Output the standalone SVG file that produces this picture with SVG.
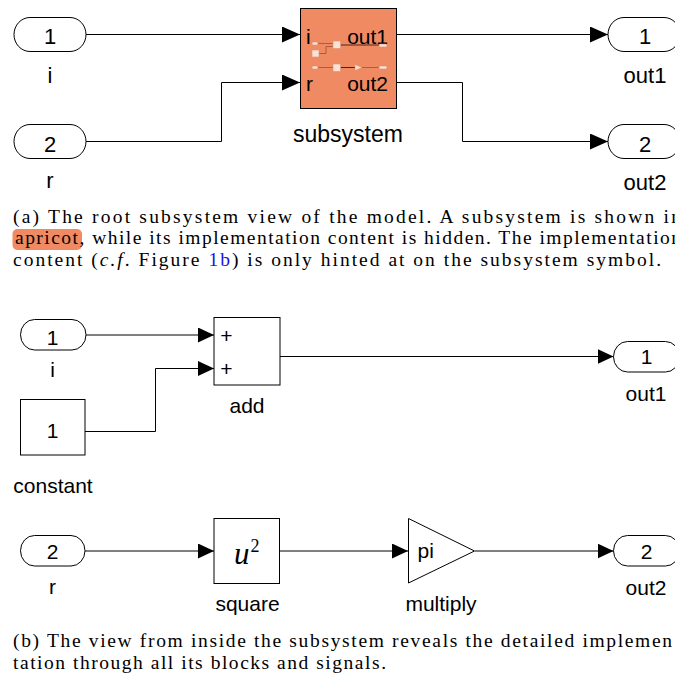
<svg xmlns="http://www.w3.org/2000/svg" width="675" height="676" viewBox="0 0 675 676">
<defs>
<style>
.ln{fill:none;stroke:#000;stroke-width:1}
.blk{fill:#fff;stroke:#000;stroke-width:1}
.sub{fill:#EF8A62;stroke:#000;stroke-width:1}
.sf{font-family:"Liberation Sans",Arial,sans-serif;fill:#000}
.t22{font-size:22px}
.t21{font-size:21px}
.mid{text-anchor:middle}
.end{text-anchor:end}
.cap{font-family:"Liberation Serif","Times New Roman",serif;font-size:19.5px;fill:#000}
.mini{fill:#FBE2D6;stroke:#D98F70;stroke-width:0.6}
.hl{fill:none;stroke:#A0502F;stroke-width:0.8}
.hd{fill:none;stroke:#4A2418;stroke-width:1}
</style>
<marker id="ah" viewBox="0 0 18 16" refX="18" refY="8" markerWidth="18" markerHeight="16" markerUnits="userSpaceOnUse" orient="auto"><path d="M0,0 L18,8 L0,16 z" fill="#000"/></marker>
<marker id="ab" viewBox="0 0 16 15" refX="16" refY="7.5" markerWidth="16" markerHeight="15" markerUnits="userSpaceOnUse" orient="auto"><path d="M0,0 L16,7.5 L0,15 z" fill="#000"/></marker>
</defs>
<rect width="675" height="676" fill="#fff"/>

<!-- Top: connectors -->
<g id="connectors-a">
<path class="ln" d="M86,34.5 H300" marker-end="url(#ah)"/>
<path class="ln" d="M86,141.5 H221.5 V82.5 H300" marker-end="url(#ah)"/>
<path class="ln" d="M396,34.5 H608" marker-end="url(#ah)"/>
<path class="ln" d="M396,82.5 H462.5 V141.5 H608" marker-end="url(#ah)"/>
</g>

<g id="a-in-i">
<rect class="blk" x="14" y="17.5" width="72" height="34" rx="16" ry="17"/>
<text class="sf t22 mid" x="50" y="43.5">1</text>
<text class="sf t22 mid" x="50" y="83">i</text>
</g>
<g id="a-in-r">
<rect class="blk" x="14" y="124.5" width="72" height="34" rx="16" ry="17"/>
<text class="sf t22 mid" x="50" y="151.5">2</text>
<text class="sf t22 mid" x="50" y="188">r</text>
</g>
<g id="a-subsystem">
<rect class="sub" x="300.5" y="8.5" width="96" height="100"/>
<text class="sf t21" x="306" y="43.5">i</text>
<text class="sf t21 end" x="388" y="43.5">out1</text>
<text class="sf t21" x="306" y="91">r</text>
<text class="sf t21 end" x="388" y="91">out2</text>
<path class="hl" d="M318,43.5 H333"/>
<path class="hl" d="M319,53.5 H326 V46.5 H333"/>
<path class="hd" d="M340.5,45 H379"/>
<path class="hl" d="M318,67.5 H333"/>
<path class="hd" d="M340.5,67.5 H355"/>
<path class="hl" d="M362,67.5 H379"/>
<rect class="mini" x="312" y="42" width="6" height="3" rx="1.5"/>
<rect class="mini" x="312" y="50" width="7" height="7"/>
<rect class="mini" x="333" y="41" width="7.5" height="7.5"/>
<rect class="mini" x="379" y="44" width="8" height="3" rx="1.5"/>
<rect class="mini" x="312" y="66" width="6" height="3" rx="1.5"/>
<rect class="mini" x="333" y="64" width="7.5" height="7.5"/>
<polygon class="mini" points="355,64.5 362,67.5 355,70.5"/>
<rect class="mini" x="379" y="66" width="8" height="3" rx="1.5"/>
<text class="sf mid" font-size="23" x="348" y="142">subsystem</text>
</g>
<g id="a-out1">
<rect class="blk" x="608" y="17.5" width="72" height="34" rx="16" ry="17"/>
<text class="sf t22 mid" x="645" y="43.5">1</text>
<text class="sf t22 mid" x="645" y="83">out1</text>
</g>
<g id="a-out2">
<rect class="blk" x="608" y="124.5" width="72" height="34" rx="16" ry="17"/>
<text class="sf t22 mid" x="645" y="151.5">2</text>
<text class="sf t22 mid" x="645" y="190">out2</text>
</g>

<!-- Caption a -->
<g id="caption-a">
<rect x="12.5" y="229" width="69.5" height="21" rx="5" fill="#EF8A62"/>
<text class="cap" x="13" y="222.5" textLength="668" lengthAdjust="spacing">(a) The root subsystem view of the model.  A subsystem is shown in</text>
<text class="cap" x="15" y="244" textLength="666" lengthAdjust="spacing">apricot, while its implementation content is hidden.  The implementation</text>
<text class="cap" x="13" y="265.5" textLength="648" lengthAdjust="spacing">content (<tspan font-style="italic">c.f</tspan>. Figure <tspan fill="#1515E0">1b</tspan>) is only hinted at on the subsystem symbol.</text>
</g>

<!-- Bottom: connectors -->
<g id="connectors-b">
<path class="ln" d="M86,335 H214" marker-end="url(#ab)"/>
<path class="ln" d="M85,431.5 H155.5 V368.5 H214" marker-end="url(#ab)"/>
<path class="ln" d="M280,356.5 H613.5" marker-end="url(#ab)"/>
<path class="ln" d="M85,551 H214" marker-end="url(#ab)"/>
<path class="ln" d="M279.5,551 H408" marker-end="url(#ab)"/>
<path class="ln" d="M475,551 H613.5" marker-end="url(#ab)"/>
</g>

<g id="b-in-i">
<rect class="blk" x="20.5" y="319.5" width="65.5" height="30.5" rx="14" ry="15.25"/>
<text class="sf t21 mid" x="52.5" y="345">1</text>
<text class="sf t21 mid" x="52.5" y="377">i</text>
</g>
<g id="b-constant">
<rect class="blk" x="20.5" y="399.5" width="64.5" height="55.5"/>
<text class="sf t21 mid" x="52.5" y="438">1</text>
<text class="sf t21 mid" x="53" y="493">constant</text>
</g>
<g id="b-add">
<rect class="blk" x="214" y="317.5" width="66" height="67.5"/>
<text class="sf mid" font-size="21" x="226.3" y="343">+</text>
<text class="sf mid" font-size="21" x="226.3" y="376">+</text>
<text class="sf t21 mid" x="247" y="413">add</text>
</g>
<g id="b-out1">
<rect class="blk" x="613.5" y="341.5" width="66" height="30.5" rx="14" ry="15.25"/>
<text class="sf t21 mid" x="646.5" y="364">1</text>
<text class="sf t21 mid" x="646" y="401">out1</text>
</g>
<g id="b-in-r">
<rect class="blk" x="20.5" y="535.5" width="64.5" height="30.5" rx="14" ry="15.25"/>
<text class="sf t21 mid" x="52.5" y="559">2</text>
<text class="sf t21 mid" x="52.5" y="594">r</text>
</g>
<g id="b-square">
<rect class="blk" x="214" y="518.5" width="65.5" height="65"/>
<text x="234" y="563.5" font-family="'Liberation Serif','Times New Roman',serif" font-size="31" font-style="italic">u</text>
<text x="250.5" y="552" font-family="'Liberation Serif','Times New Roman',serif" font-size="18">2</text>
<text class="sf t21 mid" x="247.5" y="611">square</text>
</g>
<g id="b-multiply">
<polygon class="blk" points="408.5,518.5 474.5,551 408.5,583"/>
<text class="sf t21" x="417.5" y="558">pi</text>
<text class="sf t21 mid" x="441" y="611">multiply</text>
</g>
<g id="b-out2">
<rect class="blk" x="613.5" y="535.5" width="66" height="30.5" rx="14" ry="15.25"/>
<text class="sf t21 mid" x="646.5" y="559">2</text>
<text class="sf t21 mid" x="646" y="595">out2</text>
</g>

<!-- Caption b -->
<g id="caption-b">
<text class="cap" x="13" y="647" textLength="659" lengthAdjust="spacing">(b) The view from inside the subsystem reveals the detailed implemen</text>
<text class="cap" x="13" y="668.5" textLength="373" lengthAdjust="spacing">tation through all its blocks and signals.</text>
</g>
</svg>
